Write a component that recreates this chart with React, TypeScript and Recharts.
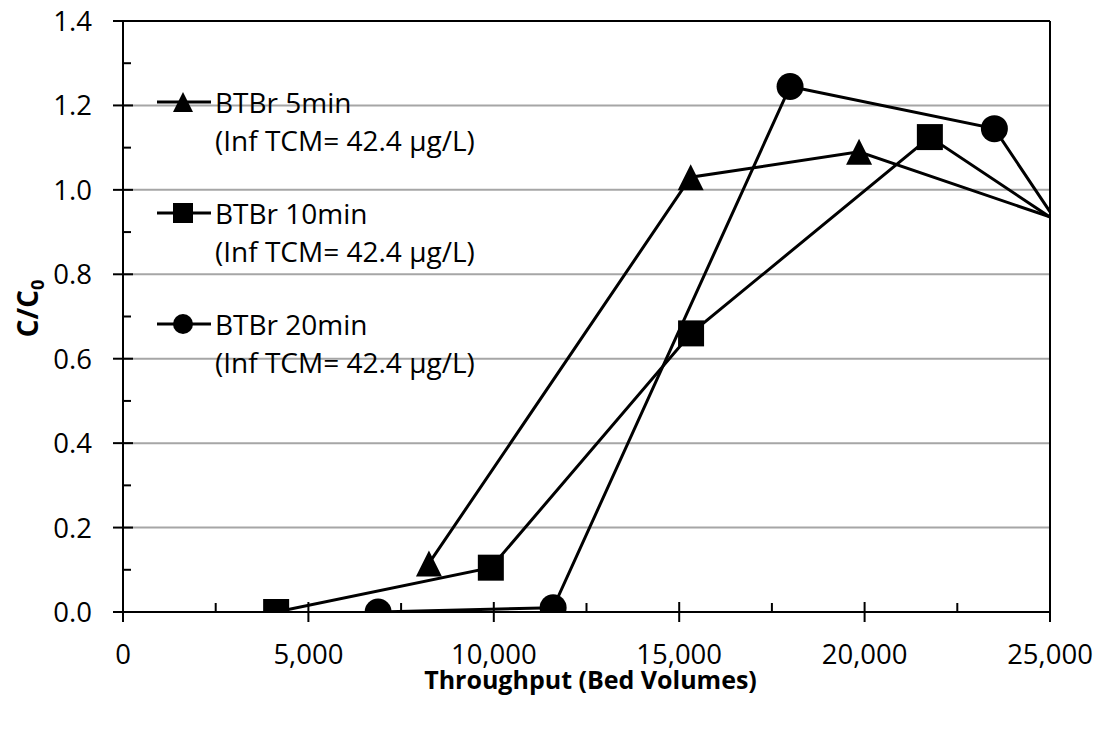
import * as React from 'react';
import { LineChart, Line, XAxis, YAxis, ReferenceLine, Legend, Label } from 'recharts';

// ---- data ------------------------------------------------------------------
const xTicks = [0, 2500, 5000, 7500, 10000, 12500, 15000, 17500, 20000, 22500, 25000];
const yTicks = [0, 0.1, 0.2, 0.3, 0.4, 0.5, 0.6, 0.7, 0.8, 0.9, 1.0, 1.1, 1.2, 1.3, 1.4];
const gridValues = [0.2, 0.4, 0.6, 0.8, 1.0, 1.2];

const seriesNames = ['BTBr 5min', 'BTBr 10min', 'BTBr 20min'];
const seriesNotes = ['(Inf TCM= 42.4 µg/L)', '(Inf TCM= 42.4 µg/L)', '(Inf TCM= 42.4 µg/L)'];
const seriesShapes = ['triangle', 'square', 'circle'];

// last point of each run sits past the 25,000 edge and is clipped
const bv5 = [8250, 15310, 19850, 26000];
const c5 = [0.115, 1.03, 1.09, 0.906];
const bv10 = [4130, 9920, 15320, 21760, 26000];
const c10 = [0, 0.105, 0.66, 1.125, 0.877];
const bv20 = [6880, 11600, 17990, 23500, 26000];
const c20 = [0, 0.01, 1.245, 1.145, 0.817];

const toRows = (xs: number[], ys: number[]) => xs.map((x, i) => ({ bv: x, c: ys[i] }));
const runs = [toRows(bv5, c5), toRows(bv10, c10), toRows(bv20, c20)];

const FONT = '"Open Sans", Lato, sans-serif';

function Marker({ shape, cx, cy, size }: { shape: string; cx: number; cy: number; size: number }) {
  const h = size / 2;
  if (shape === 'triangle')
    return <path d={`M${cx},${cy - h} L${cx + h},${cy + h} L${cx - h},${cy + h} Z`} fill="#000" />;
  if (shape === 'square') return <rect x={cx - h} y={cy - h} width={size} height={size} fill="#000" />;
  return <circle cx={cx} cy={cy} r={h} fill="#000" />;
}

const dotFor = (shape: string) => (p: any) =>
  p.cx == null ? <g key={p.index} /> : (
    <g key={p.index}>
      <Marker shape={shape} cx={p.cx} cy={p.cy} size={shape === 'circle' ? 27 : 26} />
    </g>
  );

const fmtX = (v: number) => v.toLocaleString('en-US');

function XTick(p: any) {
  const v = p.payload.value;
  const major = v % 5000 === 0;
  return (
    <g>
      <line x1={p.x} x2={p.x} y1={p.y - (major ? 10 : 9)} y2={p.y + (major ? 10 : 0)} stroke="#000" strokeWidth={2} />
      {major && (
        <text x={p.x} y={p.y + 52} textAnchor="middle" fontFamily={FONT} fontSize={27.5} fill="#000">
          {fmtX(v)}
        </text>
      )}
    </g>
  );
}

function YTick(p: any) {
  const v = p.payload.value;
  const major = Math.round(v * 10) % 2 === 0;
  return (
    <g>
      <line x1={p.x - (major ? 10 : 0)} x2={p.x + (major ? 10 : 8)} y1={p.y} y2={p.y} stroke="#000" strokeWidth={2} />
      {major && (
        <text x={p.x - 31} y={p.y + 10} textAnchor="end" fontFamily={FONT} fontSize={27.5} fill="#000">
          {v.toFixed(1)}
        </text>
      )}
    </g>
  );
}

function LegendBox({ payload }: any) {
  return (
    <div style={{ fontFamily: FONT, fontSize: 28, color: '#000' }}>
      {seriesNames.map((name, i) => {
        const entry = (payload || []).find((e: any) => e.value === name);
        const color = entry ? entry.color : '#000';
        return (
          <div key={name} style={{ display: 'flex', alignItems: 'flex-start', marginBottom: 35 }}>
            <svg width={58} height={38} style={{ flex: 'none' }}>
              <line x1={2} x2={56} y1={19} y2={19} stroke={color} strokeWidth={3} />
              <Marker shape={seriesShapes[i]} cx={28} cy={19} size={20} />
            </svg>
            <div style={{ marginLeft: 2, lineHeight: '38px', whiteSpace: 'nowrap' }}>
              <div>{name}</div>
              <div>{seriesNotes[i]}</div>
            </div>
          </div>
        );
      })}
    </div>
  );
}

export default function App() {
  return (
    <div style={{ position: 'absolute', left: 0, top: 0, width: 1103, height: 729, background: '#fff' }}>
      <LineChart width={1103} height={729} margin={{ top: 21, right: 53, bottom: 0, left: 0 }}>
        <XAxis
          type="number"
          dataKey="bv"
          domain={[0, 25000]}
          allowDataOverflow
          ticks={xTicks}
          interval={0}
          tickSize={0}
          tickMargin={0}
          height={117}
          tick={<XTick />}
          tickLine={false}
          axisLine={{ stroke: '#000', strokeWidth: 2 }}
        >
          <Label
            content={({ viewBox }: any) => (
              <text
                x={viewBox.x + viewBox.width / 2 + 4}
                y={viewBox.y + 77}
                textAnchor="middle"
                fontFamily={FONT}
                fontWeight="bold"
                fontSize={25}
                fill="#000"
              >
                Throughput (Bed Volumes)
              </text>
            )}
          />
        </XAxis>
        <YAxis
          type="number"
          dataKey="c"
          domain={[0, 1.4]}
          allowDataOverflow
          ticks={yTicks}
          interval={0}
          tickSize={0}
          tickMargin={0}
          width={123}
          tick={<YTick />}
          tickLine={false}
          axisLine={{ stroke: '#000', strokeWidth: 2 }}
        >
          <Label
            content={({ viewBox }: any) => {
              const cx = viewBox.x + 38;
              const cy = viewBox.y + viewBox.height / 2 - 8;
              return (
                <text
                  x={cx}
                  y={cy}
                  transform={`rotate(-90, ${cx}, ${cy})`}
                  textAnchor="middle"
                  fontFamily={FONT}
                  fontWeight="bold"
                  fontSize={28}
                  fill="#000"
                >
                  C/C<tspan fontSize={18} dy={6}>0</tspan>
                </text>
              );
            }}
          />
        </YAxis>
        {gridValues.map((g) => (
          <ReferenceLine key={g} y={g} stroke="#a6a6a6" strokeWidth={2} />
        ))}
        <ReferenceLine y={1.4} stroke="#000" strokeWidth={2} />
        <ReferenceLine x={25000} stroke="#000" strokeWidth={2} />
        {runs.map((rows, i) => (
          <Line
            key={seriesNames[i]}
            data={rows}
            dataKey="c"
            name={seriesNames[i]}
            type="linear"
            stroke="#000"
            strokeWidth={3}
            dot={dotFor(seriesShapes[i])}
            activeDot={false}
            isAnimationActive={false}
          />
        ))}
        <Legend
          layout="horizontal"
          verticalAlign="middle"
          align="center"
          content={<LegendBox />}
          wrapperStyle={{ left: 155, top: 83, width: 400 }}
        />
      </LineChart>
    </div>
  );
}
